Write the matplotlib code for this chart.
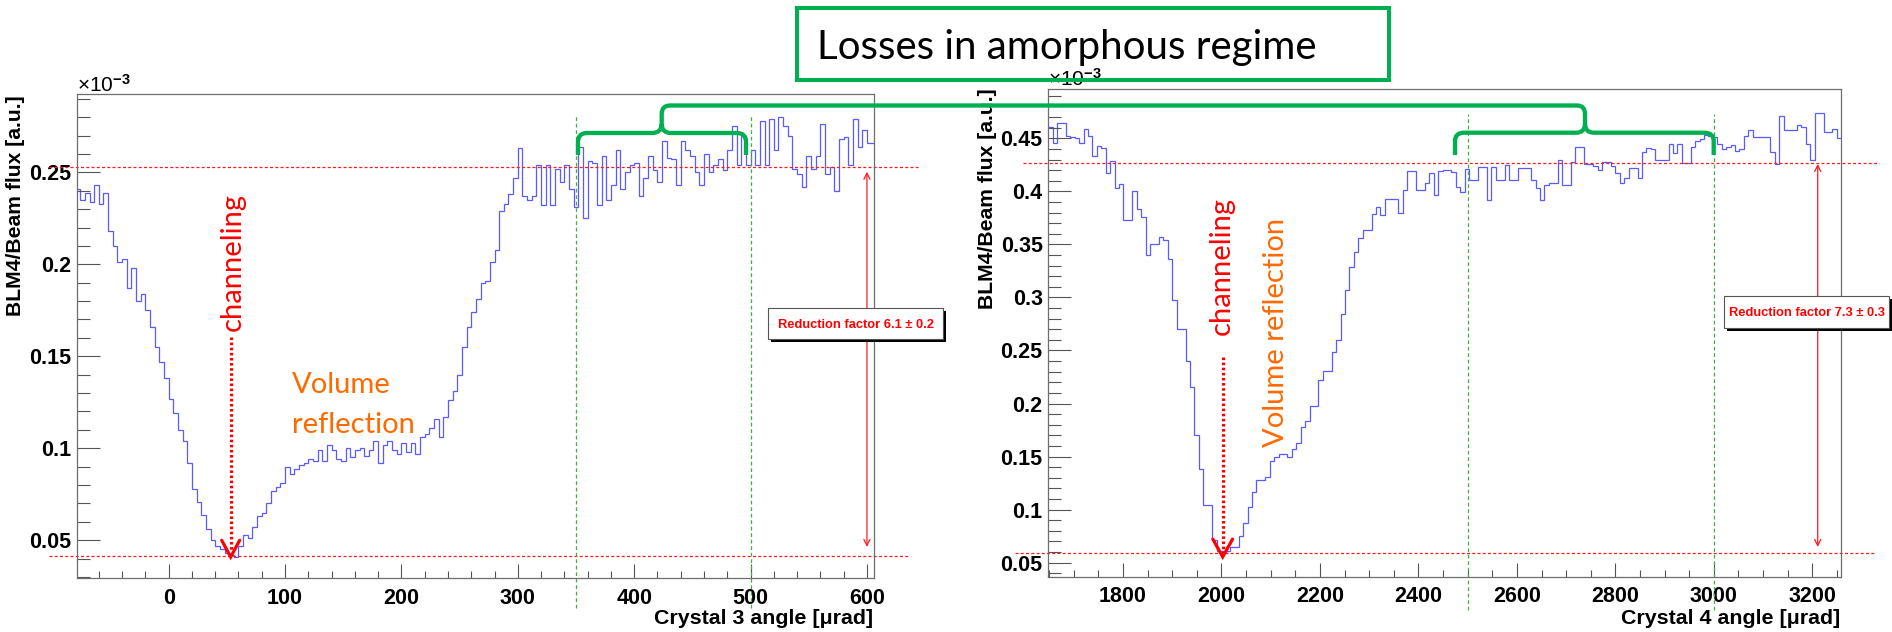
import matplotlib
matplotlib.use("Agg")
import matplotlib.pyplot as plt
import numpy as np
from matplotlib.patches import PathPatch, Rectangle
from matplotlib.path import Path
from matplotlib.ticker import FuncFormatter, MultipleLocator
from matplotlib.transforms import Affine2D

W, H = 1892, 632

# BLM4/Beam flux (units of 1e-3).
# Crystal 3: 4 urad bins starting at -80 urad.
crys3_start, crys3_bin = -80.0, 4.0
crys3_flux = [
    0.241, 0.235, 0.239, 0.234, 0.243, 0.233, 0.239, 0.218, 0.210, 0.201,
    0.203, 0.187, 0.198, 0.180, 0.184, 0.175, 0.166, 0.155, 0.147, 0.138,
    0.127, 0.119, 0.110, 0.104, 0.092, 0.078, 0.071, 0.064, 0.056, 0.050,
    0.047, 0.045, 0.043, 0.042, 0.041, 0.047, 0.053, 0.051, 0.057, 0.063,
    0.065, 0.070, 0.077, 0.079, 0.081, 0.090, 0.086, 0.089, 0.091, 0.092,
    0.094, 0.093, 0.099, 0.093, 0.102, 0.099, 0.094, 0.093, 0.100, 0.095,
    0.099, 0.100, 0.096, 0.099, 0.104, 0.092, 0.102, 0.104, 0.099, 0.097,
    0.103, 0.098, 0.103, 0.097, 0.106, 0.108, 0.111, 0.116, 0.106, 0.117,
    0.126, 0.131, 0.140, 0.155, 0.166, 0.174, 0.181, 0.190, 0.191, 0.201,
    0.208, 0.229, 0.233, 0.238, 0.247, 0.263, 0.237, 0.235, 0.237, 0.254,
    0.232, 0.254, 0.232, 0.252, 0.245, 0.254, 0.241, 0.231, 0.264, 0.225,
    0.256, 0.255, 0.232, 0.259, 0.235, 0.243, 0.262, 0.241, 0.250, 0.254,
    0.255, 0.237, 0.247, 0.259, 0.251, 0.245, 0.267, 0.258, 0.257, 0.243,
    0.267, 0.262, 0.259, 0.250, 0.243, 0.260, 0.250, 0.254, 0.257, 0.251,
    0.262, 0.275, 0.254, 0.270, 0.254, 0.262, 0.254, 0.278, 0.254, 0.279,
    0.262, 0.280, 0.275, 0.270, 0.252, 0.249, 0.242, 0.259, 0.252, 0.259,
    0.276, 0.249, 0.253, 0.240, 0.268, 0.269, 0.254, 0.279, 0.264, 0.273,
    0.266, 0.266,
]
# Crystal 4: 9 urad bins starting at 1648 urad.
crys4_start, crys4_bin = 1648.0, 9.0
crys4_flux = [
    0.461, 0.446, 0.464, 0.464, 0.452, 0.451, 0.450, 0.446, 0.459, 0.452,
    0.433, 0.443, 0.441, 0.417, 0.429, 0.403, 0.407, 0.373, 0.373, 0.400,
    0.383, 0.376, 0.340, 0.350, 0.350, 0.357, 0.354, 0.336, 0.298, 0.270,
    0.270, 0.240, 0.216, 0.170, 0.138, 0.104, 0.104, 0.071, 0.061, 0.061,
    0.061, 0.065, 0.065, 0.075, 0.087, 0.102, 0.117, 0.128, 0.128, 0.131,
    0.146, 0.150, 0.152, 0.152, 0.150, 0.157, 0.163, 0.178, 0.184, 0.198,
    0.198, 0.222, 0.231, 0.231, 0.249, 0.260, 0.284, 0.307, 0.329, 0.343,
    0.356, 0.364, 0.364, 0.379, 0.385, 0.378, 0.393, 0.393, 0.393, 0.380,
    0.401, 0.419, 0.419, 0.401, 0.401, 0.408, 0.417, 0.397, 0.419, 0.420,
    0.420, 0.418, 0.404, 0.399, 0.421, 0.411, 0.411, 0.423, 0.423, 0.392,
    0.423, 0.411, 0.411, 0.425, 0.411, 0.411, 0.422, 0.422, 0.422, 0.411,
    0.403, 0.392, 0.406, 0.408, 0.408, 0.430, 0.406, 0.406, 0.428, 0.442,
    0.442, 0.426, 0.426, 0.424, 0.420, 0.428, 0.428, 0.424, 0.417, 0.408,
    0.413, 0.422, 0.422, 0.413, 0.437, 0.441, 0.440, 0.430, 0.430, 0.430,
    0.445, 0.436, 0.445, 0.427, 0.427, 0.442, 0.447, 0.449, 0.453, 0.452,
    0.451, 0.445, 0.440, 0.442, 0.444, 0.438, 0.440, 0.452, 0.458, 0.451,
    0.451, 0.451, 0.451, 0.437, 0.426, 0.471, 0.458, 0.458, 0.458, 0.463,
    0.461, 0.445, 0.430, 0.474, 0.474, 0.456, 0.456, 0.459, 0.450,
]

# reference levels / windows drawn on each scan
crys3_amorphous, crys3_channel = 0.2530, 0.0415
crys4_amorphous, crys4_channel = 0.4264, 0.0594
crys3_window = [350, 500]
crys4_window = [2500, 3000]
crys3_arrow = (600, 0.2503, 0.0464)     # x, top tip, bottom tip
crys4_arrow = (3211, 0.4258, 0.0648)
crys3_channel_angle, crys4_channel_angle = 53.3, 2002.5
crys3_factor = "Reduction factor 6.1 \u00b1 0.2"
crys4_factor = "Reduction factor 7.3 \u00b1 0.3"

plt.rcParams.update({
    "font.family": ["Liberation Sans", "DejaVu Sans"],
    "font.weight": "bold",
    "mathtext.fontset": "custom",
    "mathtext.rm": "Liberation Sans",
    "mathtext.it": "Liberation Sans:italic",
    "mathtext.bf": "Liberation Sans:bold",
})

BLUE = "#5a5aff"
RED = "#ff1a1a"
GREEN_DASH = "#3cb43c"
GREEN = "#00b050"
ORANGE = "#ff6a00"
CALIBRI = ["Lato", "DejaVu Sans"]

fig = plt.figure(figsize=(W / 100, H / 100), dpi=100)
# pixel coordinates of the picture, origin at the top-left corner
PX = Affine2D().scale(1 / W, -1 / H).translate(0, 1) + fig.transFigure


def px_box(x0, y0, x1, y1):
    return [x0 / W, 1 - y1 / H, (x1 - x0) / W, (y1 - y0) / H]


def style(ax, xlim, ylim, xmaj, xmin, xpad):
    ax.set_xlim(*xlim)
    ax.set_ylim(*ylim)
    ax.xaxis.set_major_locator(MultipleLocator(xmaj))
    ax.xaxis.set_minor_locator(MultipleLocator(xmin))
    ax.yaxis.set_major_locator(MultipleLocator(0.05))
    ax.yaxis.set_minor_locator(MultipleLocator(0.01))
    ax.yaxis.set_major_formatter(FuncFormatter(lambda v, _: f"{v:g}"))
    ax.tick_params(which="both", direction="in", color="#555555", width=0.8,
                   top=False, right=False, labelsize=15.5)
    ax.tick_params(axis="y", which="major", length=16.5, pad=4)
    ax.tick_params(axis="y", which="minor", length=9)
    ax.tick_params(axis="x", which="major", length=10, pad=xpad)
    ax.tick_params(axis="x", which="minor", length=5)
    for s in ax.spines.values():
        s.set_color("#6e6e6e")
        s.set_linewidth(0.9)


ax3 = fig.add_axes(px_box(77.3, 94.3, 873.7, 578))
ax4 = fig.add_axes(px_box(1048.3, 89.3, 1841.3, 577.3))
style(ax3, (-78.5, 605.8), (0.0295, 0.2924), 100, 20, 7.5)
style(ax4, (1648.3, 3258.9), (0.0362, 0.4962), 200, 50, 6)

edges3 = crys3_start + crys3_bin * np.arange(len(crys3_flux) + 1)
edges4 = crys4_start + crys4_bin * np.arange(len(crys4_flux) + 1)
ax3.stairs(crys3_flux, edges3, baseline=None, color=BLUE, lw=0.9)
ax4.stairs(crys4_flux, edges4, baseline=None, color=BLUE, lw=0.9)

# red reference levels (run past the frame, as in the original)
for ax, lvl, a, b in [(ax3, crys3_amorphous, -0.0355, 1.0556),
                      (ax3, crys3_channel, -0.0355, 1.0443),
                      (ax4, crys4_amorphous, -0.0319, 1.0472),
                      (ax4, crys4_channel, -0.042, 1.0425)]:
    ax.plot([a, b], [lvl, lvl], transform=ax.get_yaxis_transform(),
            color=RED, lw=0.9, ls=(0, (2.4, 1.8)), clip_on=False)

# green window markers
for ax, xs, top, bot in [(ax3, crys3_window, 0.957, -0.062),
                         (ax4, crys4_window, 0.949, -0.066)]:
    for xv in xs:
        ax.plot([xv, xv], [bot, top], transform=ax.get_xaxis_transform(),
                color=GREEN_DASH, lw=0.9, ls=(0, (3, 2.2)), clip_on=False)

# reduction-factor arrows
for ax, (xa, top, bot) in [(ax3, crys3_arrow), (ax4, crys4_arrow)]:
    ax.annotate("", xy=(xa, top), xytext=(xa, bot),
                arrowprops=dict(arrowstyle="<->", color=RED, lw=0.9,
                                shrinkA=0, shrinkB=0, mutation_scale=11),
                annotation_clip=False)


def pave(x0, y0, x1, y1, label):
    fig.add_artist(Rectangle((x0 + 3, y0 + 3), x1 - x0, y1 - y0, transform=PX,
                             facecolor="black", edgecolor="none", zorder=5))
    fig.add_artist(Rectangle((x0, y0), x1 - x0, y1 - y0, transform=PX,
                             facecolor="white", edgecolor="#555555", lw=0.8,
                             zorder=6))
    fig.text((x0 + x1) / 2, (y0 + y1) / 2 + 1, label, transform=PX,
             ha="center", va="center", color="red", fontsize=9.3, zorder=7)


pave(768.3, 307.7, 943.3, 339.3, crys3_factor)
pave(1724, 295.7, 1889, 328, crys4_factor)

# channeling arrows (dotted shaft + V head)
for ax, xc, y0, y1, hw, hy in [(ax3, crys3_channel_angle, 0.1605, 0.0409, 7.7, 0.0500),
                               (ax4, crys4_channel_angle, 0.2436, 0.0554, 20.0, 0.0722)]:
    ax.plot([xc, xc], [y0, y1 + 0.004], color="red", lw=2.3,
            ls=(0, (0.8, 0.8)), clip_on=False)
    ax.plot([xc - hw, xc, xc + hw], [hy, y1, hy], color="red", lw=2.3,
            solid_capstyle="round", solid_joinstyle="miter", clip_on=False)

ax3.text(55.3, 0.2012, "channeling", rotation=90, ha="center", va="center",
         color="red", fontsize=21, family=CALIBRI, weight="normal")
ax4.text(2001, 0.3292, "channeling", rotation=90, ha="center", va="center",
         color="red", fontsize=21, family=CALIBRI, weight="normal")
ax3.text(105.8, 0.1301, "Volume", ha="left", va="baseline",
         color=ORANGE, fontsize=21, family=CALIBRI, weight="normal")
ax3.text(105.8, 0.1083, "reflection", ha="left", va="baseline",
         color=ORANGE, fontsize=21, family=CALIBRI, weight="normal")
ax4.text(2110.7, 0.2674, "Volume reflection", rotation=90, ha="center",
         va="center", color=ORANGE, fontsize=21, family=CALIBRI,
         weight="normal")

# axis titles and exponent labels, ROOT style
for x, y in [(16, 95), (987, 88)]:
    fig.text(x, y, "BLM4/Beam flux [a.u.]", transform=PX, rotation=90,
             ha="center", va="top", fontsize=15.2)
fig.text(872.7, 624.3, "Crystal 3 angle [\u03bcrad]", transform=PX,
         ha="right", va="baseline", fontsize=15.4)
fig.text(1840.3, 624.3, "Crystal 4 angle [\u03bcrad]", transform=PX,
         ha="right", va="baseline", fontsize=15.4)
for x, y in [(77, 92), (1048.3, 85.5)]:
    fig.text(x, y, "\u00d710$^{-3}$", transform=PX, ha="left",
             va="baseline", fontsize=15, weight="normal")

# "Losses in amorphous regime" call-out with the two braces
fig.add_artist(Rectangle((796.7, 8.3), 592, 71.7, transform=PX, fill=False,
                         edgecolor=GREEN, lw=2.9, zorder=8))
fig.text(817, 59, "Losses in amorphous regime", transform=PX, ha="left",
         va="baseline", fontsize=29, family=CALIBRI, weight="normal",
         color="black", zorder=8)

M, L, C = Path.MOVETO, Path.LINETO, Path.CURVE3
brace = [
    ((578, 155), M), ((578, 142), L), ((578, 133), C), ((587, 133), C),
    ((652, 133), L), ((661.7, 133), C), ((661.7, 124), C),
    ((746, 155), M), ((746, 142), L), ((746, 133), C), ((737, 133), C),
    ((671, 133), L), ((661.7, 133), C), ((661.7, 124), C),
    ((661.7, 114), L), ((661.7, 105.5), C), ((670, 105.5), C),
    ((1577, 105.5), L), ((1585, 105.5), C), ((1585, 114), C),
    ((1585, 124), L), ((1585, 132.7), C), ((1576, 132.7), C),
    ((1464, 132.7), L), ((1455, 132.7), C), ((1455, 141), C),
    ((1455, 155), L),
    ((1585, 124), M), ((1585, 132.7), C), ((1594, 132.7), C),
    ((1704, 132.7), L), ((1713.7, 132.7), C), ((1713.7, 141), C),
    ((1713.7, 155), L),
]
verts = [p for p, _ in brace]
codes = [c for _, c in brace]
fig.add_artist(PathPatch(Path(verts, codes), transform=PX, fill=False,
                         edgecolor=GREEN, lw=3.1, capstyle="butt",
                         joinstyle="round", zorder=8))

fig.savefig("out.png", dpi=100)
